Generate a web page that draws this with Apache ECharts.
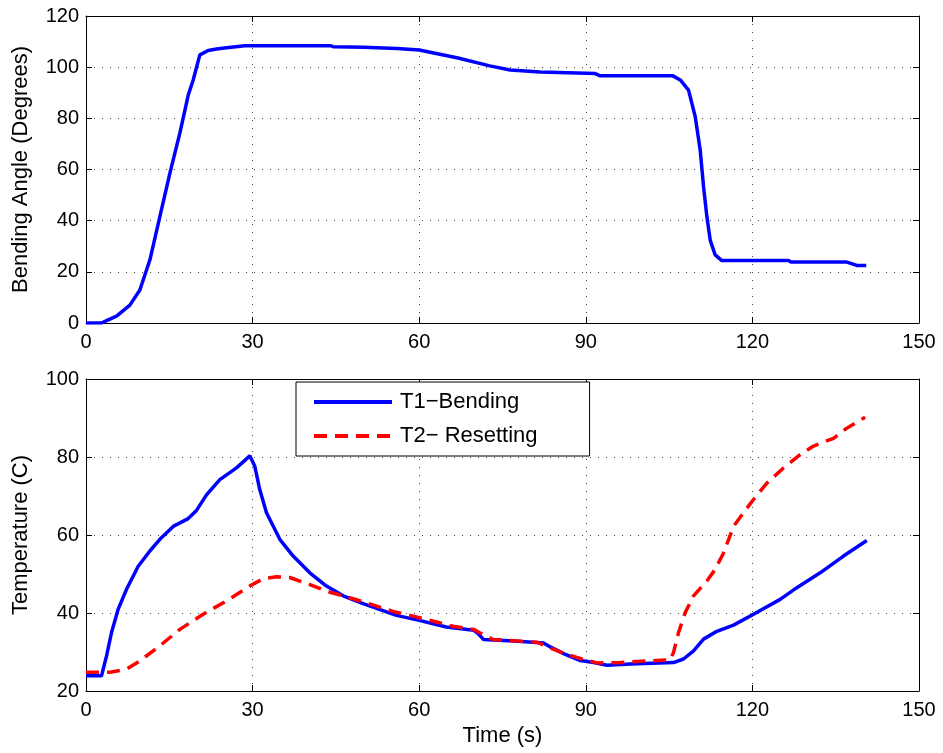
<!DOCTYPE html>
<html>
<head>
<meta charset="utf-8">
<script src="https://cdn.jsdelivr.net/npm/echarts@6/dist/echarts.min.js"></script>
<style>
html, body { margin: 0; padding: 0; background: #fff; }
#main { width: 943px; height: 753px; }
</style>
</head>
<body>
<div id="main"></div>
<script>
// top plot: bending angle vs time
var bendT = [0, 2.8, 3.7, 5.5, 7.9, 9.7, 11.5, 13.3, 15.1, 16.9, 18.4, 19.3, 20.5, 22, 23.5, 25.3, 28.6, 44, 44.5, 50, 56, 60, 67, 72.7, 76.4, 81.8, 91.7, 92.6, 105.7, 107, 108.5, 109.7, 110.6, 111.2, 111.8, 112.4, 113.3, 114.5, 126.5, 127, 137, 138.8, 140.5];
var bendAngle = [0, 0, 0.9, 2.7, 7, 12.9, 24.6, 41.6, 58.5, 74.2, 89, 95, 104.8, 106.5, 107.1, 107.6, 108.4, 108.4, 108, 107.8, 107.3, 106.7, 103.6, 100.5, 98.9, 98.1, 97.5, 96.6, 96.6, 95, 91, 80.7, 67.6, 53.3, 41.6, 32.4, 26.6, 24.4, 24.4, 23.8, 23.8, 22.5, 22.5];

// bottom plot: temperatures
var t1Time = [0, 2.8, 3.7, 4.6, 5.8, 7.3, 9.4, 11.5, 13.3, 15.7, 18.4, 19.9, 21.7, 24.1, 27.1, 29.5, 29.8, 30.4, 31.3, 32.5, 34.9, 37.3, 40.3, 43.3, 46.3, 49.9, 55.9, 60, 64.9, 69.8, 70.6, 71.6, 77, 82.4, 83.6, 86, 89, 91.4, 93.8, 98, 105.8, 107.6, 109.4, 111.2, 113.6, 116.6, 120.2, 125, 128, 132.2, 136.4, 140.6];
var t1Bending = [23.9, 23.9, 29, 35, 41, 46.1, 52, 55.9, 58.9, 62.2, 64.2, 66.3, 70.3, 74.2, 77.2, 80.3, 80.5, 77.6, 71.6, 65.7, 58.9, 54.6, 50.3, 46.9, 44.4, 42.4, 39.4, 38.1, 36.4, 35.6, 34.7, 33.2, 32.8, 32.3, 31.3, 29.6, 27.8, 27.3, 26.6, 26.9, 27.3, 28.2, 30.3, 33.3, 35.3, 36.9, 39.7, 43.5, 46.5, 50.3, 54.6, 58.6];
var t2Time = [0, 4.3, 7.3, 9.7, 13.3, 16.9, 21.1, 25.3, 29.5, 31.9, 34.3, 36.7, 40.3, 43.3, 48.7, 51.4, 55.3, 58.9, 63.1, 66.1, 69.8, 70.8, 73.3, 81.2, 85.4, 88.4, 92, 96.2, 101, 105.2, 105.8, 106.7, 107.9, 109.4, 111.8, 113.3, 114.8, 116.6, 118.4, 120.2, 122.6, 125.6, 128.6, 131, 134.6, 137, 140.3];
var t2Resetting = [24.8, 24.8, 25.6, 27.7, 31.6, 35.8, 39.7, 43.1, 46.9, 48.8, 49.3, 49.1, 47.3, 45.6, 43.4, 42.2, 40.4, 39.2, 37.7, 36.6, 35.8, 35, 33.2, 32.5, 30, 28.6, 27.2, 27.3, 27.7, 28, 29.9, 35, 40.1, 44.4, 48.2, 51.2, 55.4, 62.2, 65.7, 69.1, 73.3, 77.2, 80.6, 82.8, 84.8, 87.4, 90.2];

var seriesNames = ['T1\u2212Bending', 'T2\u2212 Resetting'];

function pairs(xs, ys) {
    return xs.map(function (x, i) { return [x, ys[i]]; });
}

var font = 'Liberation Sans, Arial, sans-serif';
var dots = { show: true, lineStyle: { color: '#444', type: [1, 7], width: 1 } };

function mainX(gi, name) {
    return {
        type: 'value', gridIndex: gi, min: 0, max: 150, interval: 30,
        name: name, nameLocation: 'middle', nameGap: 34,
        nameTextStyle: { color: '#000', fontSize: 22, fontFamily: font },
        axisLine: { onZero: false, lineStyle: { color: '#000', width: 1 } },
        axisTick: { inside: true, length: 6, lineStyle: { color: '#000' } },
        axisLabel: { color: '#000', fontSize: 20, fontFamily: font, margin: 9 },
        splitLine: dots
    };
}
function mirrorX(gi) {
    return {
        type: 'value', gridIndex: gi, min: 0, max: 150, interval: 30, position: 'top',
        axisLine: { onZero: false, lineStyle: { color: '#000', width: 1 } },
        axisTick: { inside: true, length: 6, lineStyle: { color: '#000' } },
        axisLabel: { show: false }, splitLine: { show: false }
    };
}
function mainY(gi, min, max, interval, name) {
    return {
        type: 'value', gridIndex: gi, min: min, max: max, interval: interval,
        name: name, nameLocation: 'middle', nameGap: 54,
        nameTextStyle: { color: '#000', fontSize: 22, fontFamily: font },
        axisLine: { show: true, onZero: false, lineStyle: { color: '#000', width: 1 } },
        axisTick: { show: true, inside: true, length: 6, lineStyle: { color: '#000' } },
        axisLabel: { color: '#000', fontSize: 20, fontFamily: font, margin: 7 },
        splitLine: dots
    };
}
function mirrorY(gi, min, max, interval) {
    return {
        type: 'value', gridIndex: gi, min: min, max: max, interval: interval, position: 'right',
        axisLine: { show: true, onZero: false, lineStyle: { color: '#000', width: 1 } },
        axisTick: { show: true, inside: true, length: 6, lineStyle: { color: '#000' } },
        axisLabel: { show: false }, splitLine: { show: false }
    };
}

var myChart = echarts.init(document.getElementById('main'));

var option = {
    animation: false,
    backgroundColor: '#fff',
    grid: [
        { left: 86, right: 24, top: 16, height: 307 },
        { left: 86, right: 24, top: 379, height: 312 }
    ],
    legend: {
        data: seriesNames,
        orient: 'vertical',
        left: 296,
        top: 382,
        backgroundColor: '#fff',
        borderColor: '#000',
        borderWidth: 1,
        padding: [8, 52, 8, 16],
        itemGap: 10,
        itemWidth: 78,
        itemHeight: 14,
        itemStyle: { opacity: 0 },
        lineStyle: { width: 4 },
        textStyle: { color: '#000', fontSize: 22, fontFamily: font, lineHeight: 24, padding: [0, 0, 0, 3] }
    },
    xAxis: [mainX(0, ''), mirrorX(0), mainX(1, 'Time (s)'), mirrorX(1)],
    yAxis: [
        mainY(0, 0, 120, 20, 'Bending Angle (Degrees)'), mirrorY(0, 0, 120, 20),
        mainY(1, 20, 100, 20, 'Temperature (C)'), mirrorY(1, 20, 100, 20)
    ],
    series: [
        {
            type: 'line', xAxisIndex: 0, yAxisIndex: 0, showSymbol: false, symbol: 'none',
            data: pairs(bendT, bendAngle),
            lineStyle: { color: '#0000ff', width: 3.5 }, itemStyle: { color: '#0000ff' }
        },
        {
            name: seriesNames[0],
            type: 'line', xAxisIndex: 2, yAxisIndex: 2, showSymbol: false, symbol: 'none',
            data: pairs(t1Time, t1Bending),
            lineStyle: { color: '#0000ff', width: 3.5 }, itemStyle: { color: '#0000ff' }
        },
        {
            name: seriesNames[1],
            type: 'line', xAxisIndex: 2, yAxisIndex: 2, showSymbol: false, symbol: 'none',
            data: pairs(t2Time, t2Resetting),
            lineStyle: { color: '#ff0000', width: 3.5, type: [13, 8] }, itemStyle: { color: '#ff0000' }
        }
    ]
};

myChart.setOption(option);
</script>
</body>
</html>
